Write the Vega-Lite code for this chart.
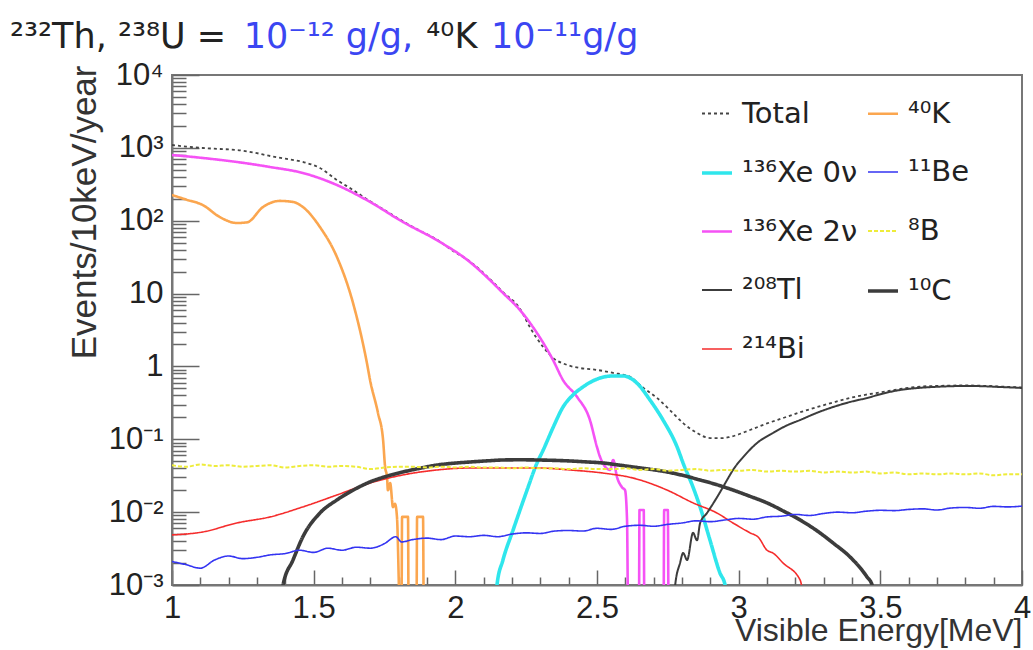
{
"$schema": "https://vega.github.io/schema/vega-lite/v6.json",
"width": 850, "height": 510,
"autosize": {"type": "none"},
"padding": {"left": 172, "top": 75, "right": 11, "bottom": 65},
"background": "white",
"config": {"font": "Liberation Sans", "view": {"stroke": "#777", "strokeWidth": 2}},
"title": {
  "text": "²³²Th, ²³⁸U =\u00a0\u00a0\u00a0\u00a0\u00a0\u00a0\u00a0\u00a0\u00a0\u00a0\u00a0\u00a0\u00a0\u00a0\u00a0\u00a0\u00a0\u00a0⁴⁰K",
  "subtitle": "\u200b\u00a0\u00a0\u00a0\u00a0\u00a0\u00a0\u00a0\u00a0\u00a0\u00a0\u00a0\u00a0\u00a0\u00a0\u00a0\u00a0\u00a0\u00a0\u00a0\u00a0\u00a010⁻¹² g/g,\u00a0\u00a0\u00a0\u00a0\u00a0\u00a0\u00a010⁻¹¹g/g",
  "anchor": "start", "frame": "group", "dx": -162, "offset": 4,
  "font": "DejaVu Sans", "subtitleFont": "DejaVu Sans",
  "fontSize": 35, "fontWeight": "normal", "color": "#222",
  "subtitleFontSize": 35, "subtitleColor": "#3b46f2", "subtitlePadding": -35
},
"data": {"values": [
{"s":"Total","x":1.0,"y":1094},{"s":"Total","x":1.05,"y":1040},{"s":"Total","x":1.109,"y":995},{"s":"Total","x":1.17,"y":965},{"s":"Total","x":1.229,"y":935},{"s":"Total","x":1.29,"y":860},{"s":"Total","x":1.346,"y":773},{"s":"Total","x":1.40,"y":710},{"s":"Total","x":1.462,"y":640},{"s":"Total","x":1.522,"y":530},{"s":"Total","x":1.582,"y":362},{"s":"Total","x":1.639,"y":264},{"s":"Total","x":1.699,"y":185},{"s":"Total","x":1.757,"y":135},{"s":"Total","x":1.815,"y":98},{"s":"Total","x":1.875,"y":73},{"s":"Total","x":1.935,"y":55},{"s":"Total","x":1.99,"y":39},{"s":"Total","x":2.052,"y":27.5},{"s":"Total","x":2.11,"y":17.5},{"s":"Total","x":2.168,"y":10.5},{"s":"Total","x":2.228,"y":6.2},{"s":"Total","x":2.264,"y":3.4},{"s":"Total","x":2.31,"y":1.85},{"s":"Total","x":2.345,"y":1.31},{"s":"Total","x":2.394,"y":1.05},{"s":"Total","x":2.44,"y":0.95},{"s":"Total","x":2.5,"y":0.895},{"s":"Total","x":2.557,"y":0.815},{"s":"Total","x":2.617,"y":0.72},{"s":"Total","x":2.663,"y":0.51},{"s":"Total","x":2.712,"y":0.37},{"s":"Total","x":2.758,"y":0.25},{"s":"Total","x":2.804,"y":0.167},{"s":"Total","x":2.853,"y":0.122},{"s":"Total","x":2.899,"y":0.104},{"s":"Total","x":2.945,"y":0.104},{"s":"Total","x":2.97,"y":0.108},{"s":"Total","x":3.04,"y":0.134},{"s":"Total","x":3.1,"y":0.165},{"s":"Total","x":3.157,"y":0.196},{"s":"Total","x":3.217,"y":0.235},{"s":"Total","x":3.277,"y":0.277},{"s":"Total","x":3.333,"y":0.32},{"s":"Total","x":3.393,"y":0.369},{"s":"Total","x":3.45,"y":0.41},{"s":"Total","x":3.51,"y":0.446},{"s":"Total","x":3.57,"y":0.49},{"s":"Total","x":3.63,"y":0.525},{"s":"Total","x":3.7,"y":0.54},{"s":"Total","x":3.806,"y":0.548},{"s":"Total","x":3.86,"y":0.543},{"s":"Total","x":3.923,"y":0.53},{"s":"Total","x":4.0,"y":0.515},
{"s":"¹³⁶Xe 2ν","x":1.0,"y":798},{"s":"¹³⁶Xe 2ν","x":1.109,"y":726},{"s":"¹³⁶Xe 2ν","x":1.229,"y":640},{"s":"¹³⁶Xe 2ν","x":1.346,"y":546},{"s":"¹³⁶Xe 2ν","x":1.462,"y":452},{"s":"¹³⁶Xe 2ν","x":1.582,"y":309},{"s":"¹³⁶Xe 2ν","x":1.699,"y":181},{"s":"¹³⁶Xe 2ν","x":1.815,"y":96},{"s":"¹³⁶Xe 2ν","x":1.935,"y":54},{"s":"¹³⁶Xe 2ν","x":2.052,"y":27},{"s":"¹³⁶Xe 2ν","x":2.11,"y":17},{"s":"¹³⁶Xe 2ν","x":2.168,"y":10.2},{"s":"¹³⁶Xe 2ν","x":2.228,"y":5.95},{"s":"¹³⁶Xe 2ν","x":2.288,"y":2.88},{"s":"¹³⁶Xe 2ν","x":2.345,"y":1.22},{"s":"¹³⁶Xe 2ν","x":2.38,"y":0.65},{"s":"¹³⁶Xe 2ν","x":2.43,"y":0.38},{"s":"¹³⁶Xe 2ν","x":2.475,"y":0.184},{"s":"¹³⁶Xe 2ν","x":2.5,"y":0.078},{"s":"¹³⁶Xe 2ν","x":2.511,"y":0.057},{"s":"¹³⁶Xe 2ν","x":2.546,"y":0.038},{"s":"¹³⁶Xe 2ν","x":2.557,"y":0.052},{"s":"¹³⁶Xe 2ν","x":2.571,"y":0.030},{"s":"¹³⁶Xe 2ν","x":2.588,"y":0.022},{"s":"¹³⁶Xe 2ν","x":2.599,"y":0.020},{"s":"¹³⁶Xe 2ν","x":2.606,"y":0.0078},{"s":"¹³⁶Xe 2ν","x":2.61,"y":0.0004},{"s":"¹³⁶Xe 2ν","x":2.648,"y":0.0004},{"s":"¹³⁶Xe 2ν","x":2.650,"y":0.0107},{"s":"¹³⁶Xe 2ν","x":2.665,"y":0.0107},{"s":"¹³⁶Xe 2ν","x":2.667,"y":0.0004},{"s":"¹³⁶Xe 2ν","x":2.735,"y":0.0004},{"s":"¹³⁶Xe 2ν","x":2.737,"y":0.0107},{"s":"¹³⁶Xe 2ν","x":2.750,"y":0.0107},{"s":"¹³⁶Xe 2ν","x":2.752,"y":0.0004},
{"s":"¹³⁶Xe 0ν","x":2.14,"y":0.0004},{"s":"¹³⁶Xe 0ν","x":2.147,"y":0.001},{"s":"¹³⁶Xe 0ν","x":2.168,"y":0.0022},{"s":"¹³⁶Xe 0ν","x":2.204,"y":0.0057},{"s":"¹³⁶Xe 0ν","x":2.253,"y":0.020},{"s":"¹³⁶Xe 0ν","x":2.288,"y":0.047},{"s":"¹³⁶Xe 0ν","x":2.31,"y":0.071},{"s":"¹³⁶Xe 0ν","x":2.345,"y":0.145},{"s":"¹³⁶Xe 0ν","x":2.38,"y":0.277},{"s":"¹³⁶Xe 0ν","x":2.415,"y":0.405},{"s":"¹³⁶Xe 0ν","x":2.45,"y":0.522},{"s":"¹³⁶Xe 0ν","x":2.5,"y":0.67},{"s":"¹³⁶Xe 0ν","x":2.557,"y":0.74},{"s":"¹³⁶Xe 0ν","x":2.592,"y":0.74},{"s":"¹³⁶Xe 0ν","x":2.641,"y":0.59},{"s":"¹³⁶Xe 0ν","x":2.687,"y":0.346},{"s":"¹³⁶Xe 0ν","x":2.733,"y":0.184},{"s":"¹³⁶Xe 0ν","x":2.783,"y":0.078},{"s":"¹³⁶Xe 0ν","x":2.804,"y":0.047},{"s":"¹³⁶Xe 0ν","x":2.839,"y":0.022},{"s":"¹³⁶Xe 0ν","x":2.864,"y":0.0117},{"s":"¹³⁶Xe 0ν","x":2.899,"y":0.0041},{"s":"¹³⁶Xe 0ν","x":2.934,"y":0.00146},{"s":"¹³⁶Xe 0ν","x":2.952,"y":0.001},{"s":"¹³⁶Xe 0ν","x":2.96,"y":0.0004},
{"s":"⁴⁰K","x":1.0,"y":225},{"s":"⁴⁰K","x":1.05,"y":195},{"s":"⁴⁰K","x":1.109,"y":164},{"s":"⁴⁰K","x":1.169,"y":112},{"s":"⁴⁰K","x":1.229,"y":93},{"s":"⁴⁰K","x":1.265,"y":95},{"s":"⁴⁰K","x":1.321,"y":154},{"s":"⁴⁰K","x":1.381,"y":187},{"s":"⁴⁰K","x":1.427,"y":181},{"s":"⁴⁰K","x":1.462,"y":154},{"s":"⁴⁰K","x":1.522,"y":82},{"s":"⁴⁰K","x":1.582,"y":31.8},{"s":"⁴⁰K","x":1.639,"y":7.4},{"s":"⁴⁰K","x":1.688,"y":1.11},{"s":"⁴⁰K","x":1.699,"y":0.65},{"s":"⁴⁰K","x":1.727,"y":0.23},{"s":"⁴⁰K","x":1.745,"y":0.098},{"s":"⁴⁰K","x":1.752,"y":0.042},{"s":"⁴⁰K","x":1.759,"y":0.030},{"s":"⁴⁰K","x":1.762,"y":0.020},{"s":"⁴⁰K","x":1.77,"y":0.025},{"s":"⁴⁰K","x":1.78,"y":0.0117},{"s":"⁴⁰K","x":1.787,"y":0.013},{"s":"⁴⁰K","x":1.794,"y":0.0086},{"s":"⁴⁰K","x":1.805,"y":0.0004},{"s":"⁴⁰K","x":1.81,"y":0.0004},{"s":"⁴⁰K","x":1.812,"y":0.0086},{"s":"⁴⁰K","x":1.833,"y":0.0086},{"s":"⁴⁰K","x":1.835,"y":0.0004},{"s":"⁴⁰K","x":1.863,"y":0.0004},{"s":"⁴⁰K","x":1.865,"y":0.0086},{"s":"⁴⁰K","x":1.886,"y":0.0086},{"s":"⁴⁰K","x":1.888,"y":0.0004},
{"s":"²¹⁴Bi","x":1.0,"y":0.00487},{"s":"²¹⁴Bi","x":1.109,"y":0.00535},{"s":"²¹⁴Bi","x":1.229,"y":0.0071},{"s":"²¹⁴Bi","x":1.346,"y":0.0086},{"s":"²¹⁴Bi","x":1.462,"y":0.0118},{"s":"²¹⁴Bi","x":1.582,"y":0.0172},{"s":"²¹⁴Bi","x":1.699,"y":0.0251},{"s":"²¹⁴Bi","x":1.815,"y":0.0324},{"s":"²¹⁴Bi","x":1.935,"y":0.0379},{"s":"²¹⁴Bi","x":2.052,"y":0.0404},{"s":"²¹⁴Bi","x":2.168,"y":0.0404},{"s":"²¹⁴Bi","x":2.288,"y":0.0404},{"s":"²¹⁴Bi","x":2.405,"y":0.0379},{"s":"²¹⁴Bi","x":2.521,"y":0.0344},{"s":"²¹⁴Bi","x":2.627,"y":0.0294},{"s":"²¹⁴Bi","x":2.747,"y":0.0201},{"s":"²¹⁴Bi","x":2.839,"y":0.0134},{"s":"²¹⁴Bi","x":2.924,"y":0.0097},{"s":"²¹⁴Bi","x":2.98,"y":0.0071},{"s":"²¹⁴Bi","x":3.04,"y":0.0052},{"s":"²¹⁴Bi","x":3.07,"y":0.0045},{"s":"²¹⁴Bi","x":3.1,"y":0.003},{"s":"²¹⁴Bi","x":3.121,"y":0.00275},{"s":"²¹⁴Bi","x":3.157,"y":0.002},{"s":"²¹⁴Bi","x":3.217,"y":0.00117},{"s":"²¹⁴Bi","x":3.234,"y":0.0004},
{"s":"¹⁰C","x":1.385,"y":0.0004},{"s":"¹⁰C","x":1.392,"y":0.001},{"s":"¹⁰C","x":1.427,"y":0.0022},{"s":"¹⁰C","x":1.462,"y":0.0046},{"s":"¹⁰C","x":1.522,"y":0.0097},{"s":"¹⁰C","x":1.582,"y":0.0147},{"s":"¹⁰C","x":1.639,"y":0.020},{"s":"¹⁰C","x":1.699,"y":0.026},{"s":"¹⁰C","x":1.757,"y":0.031},{"s":"¹⁰C","x":1.815,"y":0.0356},{"s":"¹⁰C","x":1.875,"y":0.040},{"s":"¹⁰C","x":1.935,"y":0.0443},{"s":"¹⁰C","x":1.99,"y":0.0468},{"s":"¹⁰C","x":2.052,"y":0.0488},{"s":"¹⁰C","x":2.11,"y":0.0505},{"s":"¹⁰C","x":2.168,"y":0.052},{"s":"¹⁰C","x":2.228,"y":0.0523},{"s":"¹⁰C","x":2.288,"y":0.052},{"s":"¹⁰C","x":2.345,"y":0.0514},{"s":"¹⁰C","x":2.405,"y":0.0504},{"s":"¹⁰C","x":2.46,"y":0.049},{"s":"¹⁰C","x":2.521,"y":0.0473},{"s":"¹⁰C","x":2.57,"y":0.0447},{"s":"¹⁰C","x":2.627,"y":0.0417},{"s":"¹⁰C","x":2.687,"y":0.0388},{"s":"¹⁰C","x":2.747,"y":0.0356},{"s":"¹⁰C","x":2.805,"y":0.0318},{"s":"¹⁰C","x":2.864,"y":0.0276},{"s":"¹⁰C","x":2.92,"y":0.024},{"s":"¹⁰C","x":2.98,"y":0.0201},{"s":"¹⁰C","x":3.04,"y":0.0165},{"s":"¹⁰C","x":3.1,"y":0.0134},{"s":"¹⁰C","x":3.157,"y":0.0104},{"s":"¹⁰C","x":3.217,"y":0.0078},{"s":"¹⁰C","x":3.275,"y":0.0056},{"s":"¹⁰C","x":3.333,"y":0.00378},{"s":"¹⁰C","x":3.393,"y":0.00243},{"s":"¹⁰C","x":3.453,"y":0.00129},{"s":"¹⁰C","x":3.471,"y":0.001},{"s":"¹⁰C","x":3.48,"y":0.0004},
{"s":"²⁰⁸Tl","x":2.77,"y":0.0004},{"s":"²⁰⁸Tl","x":2.776,"y":0.001},{"s":"²⁰⁸Tl","x":2.793,"y":0.002},{"s":"²⁰⁸Tl","x":2.804,"y":0.00275},{"s":"²⁰⁸Tl","x":2.818,"y":0.0022},{"s":"²⁰⁸Tl","x":2.839,"y":0.0052},{"s":"²⁰⁸Tl","x":2.853,"y":0.0041},{"s":"²⁰⁸Tl","x":2.864,"y":0.0071},{"s":"²⁰⁸Tl","x":2.888,"y":0.0097},{"s":"²⁰⁸Tl","x":2.924,"y":0.0161},{"s":"²⁰⁸Tl","x":2.959,"y":0.0276},{"s":"²⁰⁸Tl","x":2.98,"y":0.0379},{"s":"²⁰⁸Tl","x":3.016,"y":0.057},{"s":"²⁰⁸Tl","x":3.065,"y":0.089},{"s":"²⁰⁸Tl","x":3.121,"y":0.122},{"s":"²⁰⁸Tl","x":3.17,"y":0.155},{"s":"²⁰⁸Tl","x":3.217,"y":0.184},{"s":"²⁰⁸Tl","x":3.275,"y":0.23},{"s":"²⁰⁸Tl","x":3.333,"y":0.277},{"s":"²⁰⁸Tl","x":3.393,"y":0.325},{"s":"²⁰⁸Tl","x":3.453,"y":0.369},{"s":"²⁰⁸Tl","x":3.51,"y":0.425},{"s":"²⁰⁸Tl","x":3.57,"y":0.475},{"s":"²⁰⁸Tl","x":3.63,"y":0.505},{"s":"²⁰⁸Tl","x":3.686,"y":0.522},{"s":"²⁰⁸Tl","x":3.75,"y":0.535},{"s":"²⁰⁸Tl","x":3.806,"y":0.54},{"s":"²⁰⁸Tl","x":3.86,"y":0.535},{"s":"²⁰⁸Tl","x":3.923,"y":0.522},{"s":"²⁰⁸Tl","x":3.96,"y":0.515},{"s":"²⁰⁸Tl","x":4.0,"y":0.506},
{"s":"¹¹Be","x":1.0,"y":0.0021},{"s":"¹¹Be","x":1.05,"y":0.0019},{"s":"¹¹Be","x":1.1,"y":0.0017},{"s":"¹¹Be","x":1.15,"y":0.0022},{"s":"¹¹Be","x":1.2,"y":0.0025},{"s":"¹¹Be","x":1.25,"y":0.0023},{"s":"¹¹Be","x":1.3,"y":0.0024},{"s":"¹¹Be","x":1.35,"y":0.0026},{"s":"¹¹Be","x":1.4,"y":0.0027},{"s":"¹¹Be","x":1.45,"y":0.0030},{"s":"¹¹Be","x":1.5,"y":0.0028},{"s":"¹¹Be","x":1.55,"y":0.0032},{"s":"¹¹Be","x":1.6,"y":0.0030},{"s":"¹¹Be","x":1.65,"y":0.0033},{"s":"¹¹Be","x":1.7,"y":0.0032},{"s":"¹¹Be","x":1.75,"y":0.0037},{"s":"¹¹Be","x":1.79,"y":0.0046},{"s":"¹¹Be","x":1.81,"y":0.0039},{"s":"¹¹Be","x":1.85,"y":0.0042},{"s":"¹¹Be","x":1.9,"y":0.0044},{"s":"¹¹Be","x":1.95,"y":0.0042},{"s":"¹¹Be","x":2.0,"y":0.0047},{"s":"¹¹Be","x":2.05,"y":0.0046},{"s":"¹¹Be","x":2.1,"y":0.0048},{"s":"¹¹Be","x":2.15,"y":0.0046},{"s":"¹¹Be","x":2.2,"y":0.0050},{"s":"¹¹Be","x":2.25,"y":0.0052},{"s":"¹¹Be","x":2.3,"y":0.0051},{"s":"¹¹Be","x":2.35,"y":0.0055},{"s":"¹¹Be","x":2.4,"y":0.0056},{"s":"¹¹Be","x":2.45,"y":0.0055},{"s":"¹¹Be","x":2.5,"y":0.0060},{"s":"¹¹Be","x":2.55,"y":0.0058},{"s":"¹¹Be","x":2.6,"y":0.0064},{"s":"¹¹Be","x":2.65,"y":0.0066},{"s":"¹¹Be","x":2.7,"y":0.0064},{"s":"¹¹Be","x":2.75,"y":0.0068},{"s":"¹¹Be","x":2.8,"y":0.0071},{"s":"¹¹Be","x":2.85,"y":0.0076},{"s":"¹¹Be","x":2.9,"y":0.0074},{"s":"¹¹Be","x":2.95,"y":0.0078},{"s":"¹¹Be","x":3.0,"y":0.0082},{"s":"¹¹Be","x":3.05,"y":0.0080},{"s":"¹¹Be","x":3.1,"y":0.0086},{"s":"¹¹Be","x":3.15,"y":0.0088},{"s":"¹¹Be","x":3.2,"y":0.0093},{"s":"¹¹Be","x":3.25,"y":0.0090},{"s":"¹¹Be","x":3.3,"y":0.0096},{"s":"¹¹Be","x":3.35,"y":0.0100},{"s":"¹¹Be","x":3.4,"y":0.0098},{"s":"¹¹Be","x":3.45,"y":0.0103},{"s":"¹¹Be","x":3.5,"y":0.0106},{"s":"¹¹Be","x":3.55,"y":0.0105},{"s":"¹¹Be","x":3.6,"y":0.0109},{"s":"¹¹Be","x":3.65,"y":0.0111},{"s":"¹¹Be","x":3.7,"y":0.0107},{"s":"¹¹Be","x":3.75,"y":0.0114},{"s":"¹¹Be","x":3.8,"y":0.0116},{"s":"¹¹Be","x":3.85,"y":0.0113},{"s":"¹¹Be","x":3.9,"y":0.0120},{"s":"¹¹Be","x":3.95,"y":0.0118},{"s":"¹¹Be","x":4.0,"y":0.0121},
{"s":"⁸B","x":1.0,"y":0.044},{"s":"⁸B","x":1.05,"y":0.042},{"s":"⁸B","x":1.1,"y":0.045},{"s":"⁸B","x":1.15,"y":0.043},{"s":"⁸B","x":1.2,"y":0.044},{"s":"⁸B","x":1.25,"y":0.042},{"s":"⁸B","x":1.3,"y":0.043},{"s":"⁸B","x":1.35,"y":0.044},{"s":"⁸B","x":1.4,"y":0.041},{"s":"⁸B","x":1.45,"y":0.043},{"s":"⁸B","x":1.5,"y":0.044},{"s":"⁸B","x":1.55,"y":0.042},{"s":"⁸B","x":1.6,"y":0.043},{"s":"⁸B","x":1.65,"y":0.042},{"s":"⁸B","x":1.7,"y":0.039},{"s":"⁸B","x":1.75,"y":0.041},{"s":"⁸B","x":1.8,"y":0.042},{"s":"⁸B","x":1.85,"y":0.042},{"s":"⁸B","x":1.9,"y":0.041},{"s":"⁸B","x":1.95,"y":0.042},{"s":"⁸B","x":2.0,"y":0.041},{"s":"⁸B","x":2.05,"y":0.042},{"s":"⁸B","x":2.1,"y":0.041},{"s":"⁸B","x":2.15,"y":0.041},{"s":"⁸B","x":2.2,"y":0.040},{"s":"⁸B","x":2.25,"y":0.041},{"s":"⁸B","x":2.3,"y":0.040},{"s":"⁸B","x":2.35,"y":0.040},{"s":"⁸B","x":2.4,"y":0.039},{"s":"⁸B","x":2.45,"y":0.040},{"s":"⁸B","x":2.5,"y":0.039},{"s":"⁸B","x":2.55,"y":0.039},{"s":"⁸B","x":2.6,"y":0.040},{"s":"⁸B","x":2.65,"y":0.038},{"s":"⁸B","x":2.7,"y":0.039},{"s":"⁸B","x":2.75,"y":0.037},{"s":"⁸B","x":2.8,"y":0.038},{"s":"⁸B","x":2.85,"y":0.039},{"s":"⁸B","x":2.9,"y":0.037},{"s":"⁸B","x":2.95,"y":0.038},{"s":"⁸B","x":3.0,"y":0.037},{"s":"⁸B","x":3.05,"y":0.038},{"s":"⁸B","x":3.1,"y":0.036},{"s":"⁸B","x":3.15,"y":0.037},{"s":"⁸B","x":3.2,"y":0.036},{"s":"⁸B","x":3.25,"y":0.037},{"s":"⁸B","x":3.3,"y":0.035},{"s":"⁸B","x":3.35,"y":0.036},{"s":"⁸B","x":3.4,"y":0.035},{"s":"⁸B","x":3.45,"y":0.036},{"s":"⁸B","x":3.5,"y":0.034},{"s":"⁸B","x":3.55,"y":0.035},{"s":"⁸B","x":3.6,"y":0.033},{"s":"⁸B","x":3.65,"y":0.034},{"s":"⁸B","x":3.7,"y":0.033},{"s":"⁸B","x":3.75,"y":0.034},{"s":"⁸B","x":3.8,"y":0.033},{"s":"⁸B","x":3.85,"y":0.034},{"s":"⁸B","x":3.9,"y":0.032},{"s":"⁸B","x":3.95,"y":0.033},{"s":"⁸B","x":4.0,"y":0.033}
]},
"mark": {"type": "line", "clip": true, "interpolate": "monotone"},
"encoding": {
  "x": {"field": "x", "type": "quantitative",
    "scale": {"domain": [1, 4], "nice": false, "zero": false},
    "axis": {"title": "Visible Energy[MeV]", "titleAnchor": "end", "titleFontSize": 32, "titleFontWeight": "normal", "titleColor": "#333", "titlePadding": -15,
      "values": [1,1.1,1.2,1.3,1.4,1.5,1.6,1.7,1.8,1.9,2,2.1,2.2,2.3,2.4,2.5,2.6,2.7,2.8,2.9,3,3.1,3.2,3.3,3.4,3.5,3.6,3.7,3.8,3.9,4],
      "labelExpr": "indexof([1,1.5,2,2.5,3,3.5,4], datum.value) >= 0 ? format(datum.value, '~g') : ''",
      "labelFontSize": 31, "labelColor": "#222", "labelPadding": 23, "labelFlush": false, "labelOverlap": false,
      "tickSize": {"condition": {"test": "indexof([1,1.5,2,2.5,3,3.5,4], datum.value) >= 0", "value": -15}, "value": -8},
      "tickColor": "#666", "tickWidth": 1.5, "domainColor": "#777", "domainWidth": 2, "grid": false}},
  "y": {"field": "y", "type": "quantitative",
    "scale": {"type": "log", "domain": [0.001, 10000], "nice": false},
    "axis": {"title": "Events/10keV/year", "titleAnchor": "end", "titleY": -10, "titleFontSize": 35, "titleFontWeight": "normal", "titleColor": "#333", "titlePadding": 6,
      "values": [0.001,0.002,0.003,0.004,0.005,0.006,0.007,0.008,0.009,0.01,0.02,0.03,0.04,0.05,0.06,0.07,0.08,0.09,0.1,0.2,0.3,0.4,0.5,0.6,0.7,0.8,0.9,1,2,3,4,5,6,7,8,9,10,20,30,40,50,60,70,80,90,100,200,300,400,500,600,700,800,900,1000,2000,3000,4000,5000,6000,7000,8000,9000,10000],
      "labelExpr": "datum.value == 10000 ? '10⁴' : datum.value == 1000 ? '10³' : datum.value == 100 ? '10²' : datum.value == 10 ? '10' : datum.value == 1 ? '1' : datum.value == 0.1 ? '10⁻¹' : datum.value == 0.01 ? '10⁻²' : datum.value == 0.001 ? '10⁻³' : ''",
      "labelFontSize": 31, "labelColor": "#222", "labelPadding": 36, "labelOverlap": false,
      "tickSize": {"condition": {"test": "indexof([0.001,0.01,0.1,1,10,100,1000,10000], datum.value) >= 0", "value": -27}, "value": -14},
      "tickColor": "#666", "tickWidth": 1.5, "domainColor": "#777", "domainWidth": 2, "grid": false}},
  "color": {"field": "s", "type": "nominal",
    "scale": {"domain": ["Total","⁴⁰K","¹³⁶Xe 0ν","¹¹Be","¹³⁶Xe 2ν","⁸B","²⁰⁸Tl","¹⁰C","²¹⁴Bi"],
              "range": ["#444444","#fba64f","#2fe6ec","#3434f2","#f552f5","#eeec3a","#3c3c3c","#3c3c3c","#f52c2c"]},
    "legend": {"title": null, "orient": "none", "legendX": 528, "legendY": 22, "columns": 2, "direction": "horizontal", "columnPadding": 2, "rowPadding": 27, "symbolType": "stroke", "symbolSize": 900, "labelFont": "DejaVu Sans", "labelFontSize": 29, "labelColor": "#222", "labelOffset": 8, "padding": 0, "labelLimit": 300}},
  "strokeDash": {"field": "s", "type": "nominal",
    "scale": {"type": "ordinal", "domain": ["Total","⁴⁰K","¹³⁶Xe 0ν","¹¹Be","¹³⁶Xe 2ν","⁸B","²⁰⁸Tl","¹⁰C","²¹⁴Bi"],
              "range": [[3,3],[1,0],[1,0],[1,0],[1,0],[4,2],[1,0],[1,0],[1,0]]},
    "legend": {"title": null, "orient": "none", "legendX": 528, "legendY": 22, "columns": 2, "direction": "horizontal", "columnPadding": 2, "rowPadding": 27, "symbolType": "stroke", "symbolSize": 900, "labelFont": "DejaVu Sans", "labelFontSize": 29, "labelColor": "#222", "labelOffset": 8, "padding": 0, "labelLimit": 300}},
  "strokeWidth": {"field": "s", "type": "nominal",
    "scale": {"type": "ordinal", "domain": ["Total","⁴⁰K","¹³⁶Xe 0ν","¹¹Be","¹³⁶Xe 2ν","⁸B","²⁰⁸Tl","¹⁰C","²¹⁴Bi"],
              "range": [1.8, 2.6, 3.6, 1.6, 2.6, 2, 2, 3.6, 1.6]},
    "legend": {"title": null, "orient": "none", "legendX": 528, "legendY": 22, "columns": 2, "direction": "horizontal", "columnPadding": 2, "rowPadding": 27, "symbolType": "stroke", "symbolSize": 900, "labelFont": "DejaVu Sans", "labelFontSize": 29, "labelColor": "#222", "labelOffset": 8, "padding": 0, "labelLimit": 300}}
}
}
